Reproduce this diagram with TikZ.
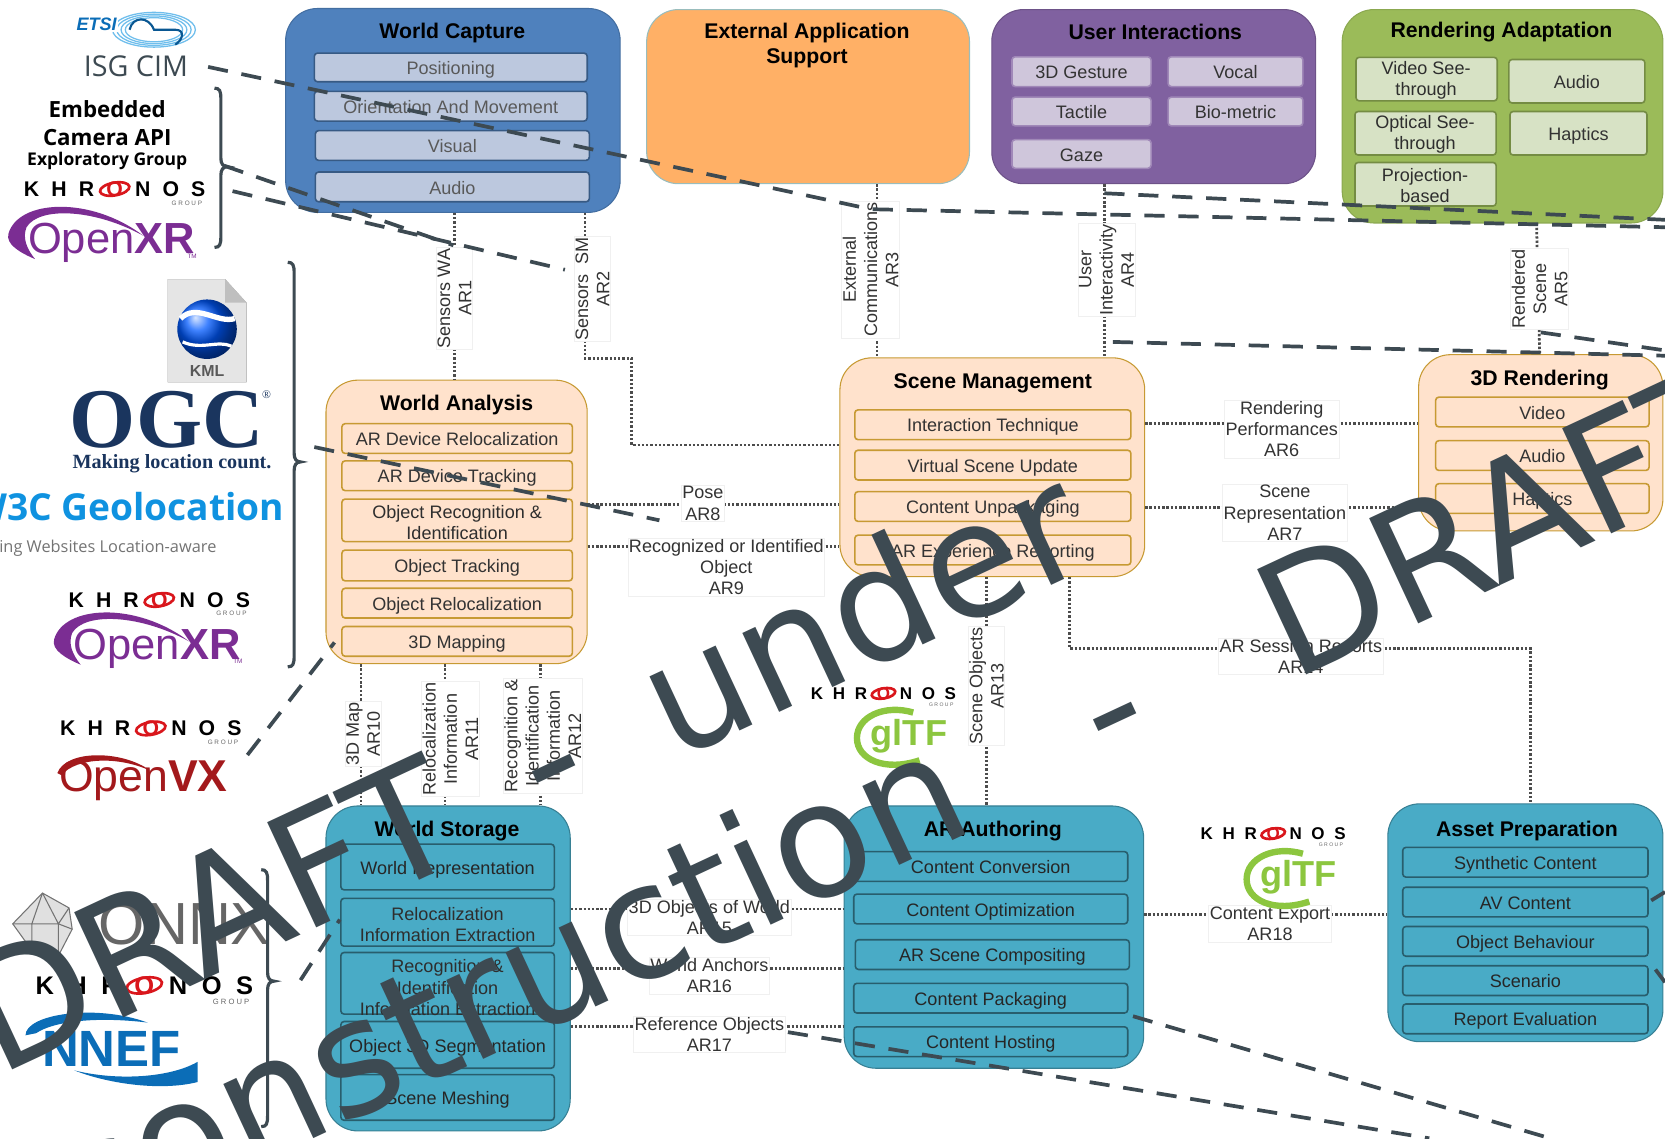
\documentclass[tikz,border=0pt]{standalone}
\usepackage{fontspec}
\setmainfont{Liberation Sans}
\newfontfamily\logofont{Open Sans}
\newfontfamily\draftfont{DejaVu Sans}
\newfontfamily\ogcfont{Liberation Serif}
\newfontfamily\khfont[LetterSpace=57]{Liberation Sans}
\definecolor{wmark}{HTML}{3D4A52}
\definecolor{blueA}{HTML}{4F81BD}
\definecolor{blueB}{HTML}{BCC8DE}
\definecolor{orangeA}{HTML}{FFB066}
\definecolor{purpleA}{HTML}{8061A0}
\definecolor{purpleB}{HTML}{CFC6DB}
\definecolor{greenA}{HTML}{9BBB59}
\definecolor{greenB}{HTML}{D7E2C5}
\definecolor{peach}{HTML}{FFE2CC}
\definecolor{gold}{HTML}{C79A33}
\definecolor{tealA}{HTML}{49ABC6}
\definecolor{khred}{HTML}{D9161C}
\definecolor{xrpurple}{HTML}{7B2D93}
\definecolor{ogcblue}{HTML}{1A355E}
\definecolor{geoblue}{HTML}{0F92E0}
\definecolor{vxred}{HTML}{A3191C}
\definecolor{gltfgreen}{HTML}{8CC63F}
\definecolor{nnefblue}{HTML}{0B6DB7}
\newcommand{\titlefont}{\fontsize{20}{23}\selectfont\bfseries}
\newcommand{\itemfont}{\fontsize{17}{20}\selectfont}
\newcommand{\linkfont}{\fontsize{17}{20}\selectfont}
\newcommand{\itemstrut}{\leavevmode\vrule height 17pt depth 3.6pt width 0pt}
\newcommand{\curlybrace}[4]{\draw[curly] (#1-6,#2) .. controls (#1-1,#2) and (#1,#2+3) .. (#1,#2+10) -- (#1,#3-8) .. controls (#1,#3-3) and (#1+2,#3) .. (#1+6,#3) .. controls (#1+2,#3) and (#1,#3+3) .. (#1,#3+8) -- (#1,#4-10) .. controls (#1,#4-3) and (#1-1,#4) .. (#1-6,#4);}
\tikzset{
	block/.style={draw, rounded corners=30pt, line width=1pt, inner sep=0pt},
	title/.style={font=\titlefont, align=center, inner sep=0pt},
	item/.style={draw, rounded corners=3pt, line width=1.5pt, inner sep=0pt, align=center, font=\itemfont, execute at begin node=\itemstrut, execute at end node=\itemstrut},
	itemblue/.style={item, fill=blueB, draw=blueA!70!black, text=black!65},
	itempurple/.style={item, fill=purpleB, draw=purpleA!75!white, text=black!80},
	itemgreen/.style={item, fill=greenB, draw=greenA!75!black, text=black!80},
	itempeach/.style={item, fill=peach, draw=gold, text=black!80},
	itemteal/.style={item, fill=tealA, draw=tealA!55!black, text=black!85},
	itemtext/.style={inner sep=0pt, align=center, font=\itemfont, text=black!82},
	link/.style={draw=black!70, line width=2.6pt, dash pattern=on 2.2pt off 1.8pt},
	lab/.style={fill=white, draw=black!6, line width=.6pt, inner sep=1pt, align=center, font=\linkfont, text=black!80},
	annot/.style={color=wmark, line width=3.5pt, dash pattern=on 19pt off 13pt},
	curly/.style={color=wmark, line width=3pt},
	watermark/.style={font=\draftfont\fontsize{150}{173}\selectfont, text=wmark, anchor=base west, rotate=25, inner sep=0pt},
	khronos/.pic={
		\node[font=\khfont\bfseries\fontsize{20}{20}\selectfont] (word) at (0,0) {KHR\kern11.5pt\textcolor{khred}{O}\kern11.5pt NOS};
		\node[font=\fontsize{6}{6}\selectfont, text=black!60] (group) at (68,13) {G R O U P};
		\draw[khred, line width=2.5pt, rotate=10] (0,0) ellipse (14 and 6);
	},
	openxr/.pic={
		\fill[xrpurple] (-87,-4) .. controls (-78,-36) and (-10,-40) .. (40,-2) .. controls (-5,-27) and (-58,-30) .. (-70,-10) .. controls (-74,0) and (-70,10) .. (-62,20) .. controls (-76,14) and (-90,6) .. (-87,-4);
		\node[font=\fontsize{41}{41}\selectfont, text=xrpurple, inner sep=0pt] (xrword) at (10,5) {Open\textbf{XR}};
		\node[font=\fontsize{6}{6}\selectfont, text=xrpurple, inner sep=0pt] (xrtm) at (86,17) {TM};
	},
	gltf/.pic={
		\draw[gltfgreen, line width=6pt] (12,-24) .. controls (-15,-32) and (-41,-20) .. (-41,0) .. controls (-41,20) and (-15,32) .. (18,21);
		\node[font=\fontsize{34}{34}\selectfont\bfseries, text=gltfgreen, inner sep=0pt] (gltfword) at (8,-2) {glTF};
	}
}
\begin{document}
\begin{tikzpicture}[x=1pt, y=-1pt]
	\clip (0,0) rectangle (1568,1072);
	% top row
	\node[block, fill=blueA, draw=blueA!85!black, minimum width=315pt, minimum height=192pt] (wcap) at (426.5,104) {};
	\node[title] (wcaptitle) at (426,31) {World Capture};
	\node[itemblue, minimum width=257pt, minimum height=27pt] (pos) at (424.5,63.5) {Positioning};
	\node[itemblue, minimum width=257pt, minimum height=28pt] (orient) at (424.5,100) {Orientation And Movement};
	\node[itemblue, minimum width=258pt, minimum height=28pt] (visual) at (426,137) {Visual};
	\node[itemblue, minimum width=258pt, minimum height=28pt] (audioA) at (426,176) {Audio};

	\node[block, fill=orangeA, draw=black!30!teal!40, minimum width=304pt, minimum height=164pt] (ext) at (761,91) {};
	\node[title] (exttitle) at (760,43) {External Application\\Support};

	\node[block, fill=purpleA, draw=purpleA!85!black, minimum width=305pt, minimum height=164pt] (ui) at (1086.5,91) {};
	\node[title] (uititle) at (1088,30) {User Interactions};
	\node[itempurple, minimum width=131pt, minimum height=28pt] (gesture) at (1018.5,67.5) {3D Gesture};
	\node[itempurple, minimum width=127pt, minimum height=28pt] (vocal) at (1163.5,67.5) {Vocal};
	\node[itempurple, minimum width=131pt, minimum height=27pt] (tactile) at (1018.5,105) {Tactile};
	\node[itempurple, minimum width=127pt, minimum height=27pt] (bio) at (1163.5,105) {Bio-metric};
	\node[itempurple, minimum width=131pt, minimum height=27pt] (gaze) at (1018.5,145) {Gaze};

	\node[block, fill=greenA, draw=greenA!90!black, minimum width=302pt, minimum height=201pt] (rad) at (1415,109.5) {};
	\node[title] (radtitle) at (1414,30.5) {Rendering Adaptation};
	\node[itemgreen, minimum width=133pt, minimum height=41pt] (videosee) at (1343.5,74.5) {};
	\node[itemtext] (videoseetext) at (1343,75.5) {Video See-\\through};
	\node[itemgreen, minimum width=128pt, minimum height=41pt] (audioB) at (1485,76.5) {Audio};
	\node[itemgreen, minimum width=133pt, minimum height=41pt] (opticalsee) at (1342.5,125.5) {};
	\node[itemtext] (opticalseetext) at (1342,126.5) {Optical See-\\through};
	\node[itemgreen, minimum width=129pt, minimum height=41pt] (hapticsA) at (1486.5,125.5) {Haptics};
	\node[itemgreen, minimum width=133pt, minimum height=41pt] (projection) at (1342.5,173.5) {};
	\node[itemtext] (projectiontext) at (1342,174.5) {Projection-\\based};

	% middle row
	\node[block, fill=peach, draw=gold, minimum width=246pt, minimum height=267pt] (wana) at (430,491.5) {};
	\node[title] (wanatitle) at (430,381) {World Analysis};
	\node[itempeach, minimum width=217pt, minimum height=28pt] (reloc) at (430.5,413) {AR Device Relocalization};
	\node[itempeach, minimum width=217pt, minimum height=28pt] (track) at (430.5,448) {AR Device Tracking};
	\node[itempeach, minimum width=217pt, minimum height=40pt] (objrec) at (430.5,490) {};
	\node[itemtext] (objrectext) at (430.5,492) {Object Recognition \&\\Identification};
	\node[itempeach, minimum width=217pt, minimum height=29pt] (objtrack) at (430.5,532.5) {Object Tracking};
	\node[itempeach, minimum width=217pt, minimum height=28pt] (objreloc) at (430.5,568) {Object Relocalization};
	\node[itempeach, minimum width=217pt, minimum height=28pt] (mapping) at (430.5,604) {3D Mapping};

	\node[block, fill=peach, draw=gold, minimum width=287pt, minimum height=206pt] (scene) at (934.5,440) {};
	\node[title] (scenetitle) at (935,361) {Scene Management};
	\node[itempeach, minimum width=260pt, minimum height=28pt] (interact) at (935,400) {Interaction Technique};
	\node[itempeach, minimum width=260pt, minimum height=28pt] (update) at (935,438) {Virtual Scene Update};
	\node[itempeach, minimum width=260pt, minimum height=28pt] (unpack) at (935,477) {Content Unpackaging};
	\node[itempeach, minimum width=260pt, minimum height=28pt] (report) at (935,518) {AR Experience Reporting};

	\node[block, fill=peach, draw=gold, minimum width=230pt, minimum height=166pt] (rthree) at (1451,417) {};
	\node[title] (rthreetitle) at (1450,358) {3D Rendering};
	\node[itempeach, minimum width=201pt, minimum height=28pt] (video) at (1452.5,388) {Video};
	\node[itempeach, minimum width=201pt, minimum height=28pt] (audioC) at (1452.5,429) {Audio};
	\node[itempeach, minimum width=201pt, minimum height=28pt] (hapticsB) at (1452.5,469.5) {Haptics};

	% bottom row
	\node[block, fill=tealA, draw=tealA!75!black, minimum width=230pt, minimum height=306pt] (store) at (422,912) {};
	\node[title] (storetitle) at (421,783) {World Storage};
	\node[itemteal, minimum width=201pt, minimum height=43pt] (worldrep) at (421.5,816.5) {World Representation};
	\node[itemteal, minimum width=201pt, minimum height=45pt] (relocx) at (421.5,868.5) {};
	\node[itemtext] (relocxtext) at (421.5,870.5) {Relocalization\\Information Extraction};
	\node[itemteal, minimum width=201pt, minimum height=58pt] (recogx) at (421.5,926) {};
	\node[itemtext] (recogxtext) at (421.5,930) {Recognition \&\\Identification\\Information Extraction};
	\node[itemteal, minimum width=201pt, minimum height=44pt] (objseg) at (421.5,984) {Object 3D Segmentation};
	\node[itemteal, minimum width=201pt, minimum height=43pt] (meshing) at (421.5,1033.5) {Scene Meshing};

	\node[block, fill=tealA, draw=tealA!75!black, minimum width=282pt, minimum height=247pt] (auth) at (936,882.5) {};
	\node[title] (authtitle) at (935,783) {AR Authoring};
	\node[itemteal, minimum width=258pt, minimum height=28pt] (convert) at (933,816) {Content Conversion};
	\node[itemteal, minimum width=258pt, minimum height=28pt] (optim) at (933,856) {Content Optimization};
	\node[itemteal, minimum width=258pt, minimum height=28pt] (composit) at (934.5,899) {AR Scene Compositing};
	\node[itemteal, minimum width=258pt, minimum height=28pt] (packag) at (933,940) {Content Packaging};
	\node[itemteal, minimum width=258pt, minimum height=28pt] (hosting) at (933,981) {Content Hosting};

	\node[block, fill=tealA, draw=tealA!75!black, minimum width=259pt, minimum height=224pt] (asset) at (1436.5,869) {};
	\node[title] (assettitle) at (1438,783) {Asset Preparation};
	\node[itemteal, minimum width=231pt, minimum height=28pt] (synth) at (1436.5,812) {Synthetic Content};
	\node[itemteal, minimum width=231pt, minimum height=28pt] (avcont) at (1436.5,849.5) {AV Content};
	\node[itemteal, minimum width=231pt, minimum height=28pt] (behav) at (1436.5,886.5) {Object Behaviour};
	\node[itemteal, minimum width=231pt, minimum height=28pt] (scenario) at (1436.5,923.5) {Scenario};
	\node[itemteal, minimum width=231pt, minimum height=28pt] (evalu) at (1436.5,959.5) {Report Evaluation};

	% reference points
	\draw[link] ([xshift=1.5pt]wcap.south) -- ([xshift=-2pt]wana.north);
	\draw[link] ([xshift=124.5pt]wcap.south) -- ++(0,137) -- ++(44,0) |- ([yshift=21pt]scene.west);
	\draw[link] ([xshift=65pt]ext.south) -- ([xshift=-108.5pt]scene.north);
	\draw[link] ([xshift=-46.5pt]ui.south) -- ([xshift=105.5pt]scene.north);
	\draw[link] ([xshift=32pt]rad.south) -- ([xshift=-1pt]rthree.north);
	\draw[link] ([yshift=41pt]scene.east) -- ([yshift=18pt]rthree.west);
	\draw[link] ([yshift=-38pt]scene.east) -- ([yshift=-61pt]rthree.west);
	\draw[link] ([yshift=16.5pt]wana.east) -- ([yshift=-35pt]scene.west);
	\draw[link] ([yshift=-23.5pt]wana.east) -- ([yshift=-75pt]scene.west);
	\draw[link] ([xshift=-90pt]wana.south) -- ([xshift=-82pt]store.north);
	\draw[link] ([xshift=-11pt]wana.south) -- ([xshift=-3pt]store.north);
	\draw[link] ([xshift=79pt]wana.south) -- ([xshift=87pt]store.north);
	\draw[link] ([xshift=-5.5pt]scene.south) -- ([xshift=-7pt]auth.north);
	\draw[link] ([xshift=72.5pt]scene.south) -- ++(0,67) -| ([xshift=4.5pt]asset.north);
	\draw[link] ([yshift=56pt]store.east) -- ([yshift=26.5pt]auth.west);
	\draw[link] (store.east) -- ([yshift=-29.5pt]auth.west);
	\draw[link] ([yshift=-55pt]store.east) -- ([yshift=-84.5pt]auth.west);
	\draw[link] ([yshift=21.5pt]auth.east) -- ([yshift=8pt]asset.west);

	\node[lab, rotate=90] (arone) at (428,281) {Sensors WA\\AR1};
	\node[lab, rotate=90] (artwo) at (558,272) {Sensors\ \ SM\\AR2};
	\node[lab, rotate=90] (arthree) at (820,254) {External\\Communications\\AR3};
	\node[lab, rotate=90] (arfour) at (1042,254) {User\\Interactivity\\AR4};
	\node[lab, rotate=90] (arfive) at (1450,272) {Rendered\\Scene\\AR5};
	\node[lab] (arsix) at (1207,404) {Rendering\\Performances\\AR6};
	\node[lab] (arseven) at (1210,483) {Scene\\Representation\\AR7};
	\node[lab] (areight) at (662,474) {Pose\\AR8};
	\node[lab] (arnine) at (684,534) {Recognized or Identified\\Object\\AR9};
	\node[lab, rotate=90] (arten) at (342,691) {3D Map\\AR10};
	\node[lab, rotate=90] (areleven) at (424,696) {Relocalization\\Information\\AR11};
	\node[lab, rotate=90] (artwelve) at (511,693) {Recognition \&\\Identification\\Information\\AR12};
	\node[lab, rotate=90] (arthirteen) at (929,646) {Scene Objects\\AR13};
	\node[lab] (arfourteen) at (1225,618) {AR Session Reports\\AR14};
	\node[lab] (arfifteen) at (668,864) {3D Objects of World\\AR15};
	\node[lab] (arsixteen) at (668,919) {World Anchors\\AR16};
	\node[lab] (arseventeen) at (668,974) {Reference Objects\\AR17};
	\node[lab] (areighteen) at (1196,870) {Content Export\\AR18};

	% logos
	\foreach \rx in {39,35,31,27}
		\draw[geoblue!60, line width=1.2pt] (145,28) ellipse ({\rx} and {\rx*.42});
	\draw[nnefblue!80!black, line width=2pt] (122,28) .. controls (125,15) and (140,15) .. (145,28) -- (165,28) .. controls (175,28) and (172,38) .. (165,42);
	\node[font=\bfseries\itshape\fontsize{17}{17}\selectfont, text=nnefblue, fill=white, inner sep=1pt] (etsi) at (91,23) {ETSI};
	\node[font=\logofont\fontsize{27}{27}\selectfont, text=wmark, inner sep=0pt] (cim) at (128,62) {ISG CIM};
	\node[font=\logofont\bfseries\fontsize{21}{27}\selectfont, inner sep=0pt, align=center] (embedded) at (101,116) {Embedded\\Camera API};
	\node[font=\logofont\bfseries\fontsize{16.5}{20}\selectfont, inner sep=0pt] (explor) at (101,152) {Exploratory Group};
	\pic (khA) at (108,178) {khronos};
	\pic (xrA) at (95,224) {openxr};
	\curlybrace{208}{83}{157}{233}

	\curlybrace{277}{247}{435}{628}
	\fill[black!10, draw=black!35] (158,263) -- (212,263) -- (232,285) -- (232,360) -- (158,360) -- cycle;
	\fill[black!25] (212,263) -- (232,285) -- (212,285) -- cycle;
	\shade[ball color=blue!65!cyan] (195,310) circle (28);
	\draw[white, line width=5pt] (170,300) .. controls (185,285) and (205,305) .. (221,300);
	\draw[white, line width=3pt] (172,322) .. controls (190,330) and (205,320) .. (218,326);
	\node[font=\bfseries\fontsize{15}{15}\selectfont, text=black!65, inner sep=0pt] (kml) at (195,349) {KML};
	\node[font=\ogcfont\bfseries\fontsize{80}{80}\selectfont, text=ogcblue, inner sep=0pt] (ogc) at (157,395) {OGC};
	\node[font=\ogcfont\fontsize{11}{11}\selectfont, text=ogcblue, inner sep=0pt] (ogcr) at (251,372) {®};
	\node[font=\ogcfont\bfseries\fontsize{19}{19}\selectfont, text=ogcblue, inner sep=0pt] (count) at (162,437) {Making location count.};
	\node[anchor=east, font=\logofont\bfseries\fontsize{35}{35}\selectfont, text=geoblue, inner sep=0pt] (geo) at (268,477) {W3C Geolocation};
	\node[anchor=east, font=\logofont\fontsize{15.4}{16}\selectfont, text=black!55, inner sep=0pt] (geosub) at (204,516) {ing Websites Location-aware};
	\pic (khB) at (150,565) {khronos};
	\pic (xrB) at (138,606) {openxr};
	\pic (khC) at (142,686) {khronos};
	\fill[vxred] (54,728) .. controls (62,706) and (115,706) .. (142,726) .. controls (112,712) and (72,713) .. (58,730) -- cycle;
	\node[font=\fontsize{42}{42}\selectfont, text=vxred, inner sep=0pt] (vxword) at (135,735) {Open\textbf{VX}};

	\pic[scale=.8, transform shape] (khD) at (832,653) {khronos};
	\pic (gltfA) at (848,695) {gltf};
	\pic[scale=.8, transform shape] (khE) at (1199,785) {khronos};
	\pic (gltfB) at (1215,828) {gltf};

	\filldraw[fill=black!12, draw=black!55, line width=1pt] (40,841) -- (65,855) -- (68,875) -- (55,900) -- (30,895) -- (12,870) -- cycle;
	\draw[black!55, line width=1pt] (40,841) -- (30,870) -- (12,870) (30,870) -- (30,895) (40,841) -- (55,870) -- (65,855) (55,870) -- (68,875) (55,870) -- (55,900) (30,870) -- (55,870);
	\node[font=\fontsize{56}{56}\selectfont, text=black!60, inner sep=0pt] (onnx) at (174,870) {ONNX};
	\pic[scale=1.2, transform shape] (khF) at (136,928) {khronos};
	\fill[nnefblue] (24,975) .. controls (24,955) and (90,945) .. (139,963) .. controls (90,957) and (50,962) .. (34,973) -- cycle;
	\fill[nnefblue] (70,1008) .. controls (110,1018) and (160,1015) .. (186,1000) -- (186,1019) .. controls (150,1028) and (100,1020) .. (70,1008) -- cycle;
	\node[font=\bfseries\fontsize{48}{48}\selectfont, text=nnefblue, inner sep=0pt] (nnef) at (105,988) {NNEF};
	\curlybrace{252}{819}{924}{1061}

	% dashed notes
	\coordinate (cimA) at (196,63);
	\coordinate (cimB) at (820,197);
	\coordinate (cimC) at (1568,214);
	\coordinate (ecamA) at (211,156);
	\coordinate (ecamB) at (427,231);
	\coordinate (ecamC) at (219,180);
	\coordinate (ecamD) at (532,254);
	\coordinate (uiA) at (1040,182);
	\coordinate (uiB) at (1568,207);
	\coordinate (scA) at (1048,322);
	\coordinate (scB) at (1568,335);
	\coordinate (reA) at (1451,313);
	\coordinate (reB) at (1568,330);
	\coordinate (wanaA) at (296,421);
	\coordinate (wanaB) at (621,490);
	\coordinate (vxA) at (233,711);
	\coordinate (vxB) at (315,605);
	\coordinate (onA) at (283,923);
	\coordinate (onB) at (320,866);
	\coordinate (refA) at (742,972);
	\coordinate (refB) at (1346,1072);
	\coordinate (packA) at (1067,957);
	\coordinate (packB) at (1460,1072);
	\coordinate (avA) at (1555,848);
	\coordinate (avB) at (1568,840);
	\coordinate (scenA) at (1559,913);
	\coordinate (scenB) at (1568,925);
	\draw[annot] (cimA) -- (cimB) -- (cimC);
	\draw[annot] (ecamA) -- (ecamB);
	\draw[annot] (ecamC) -- (ecamD);
	\draw[annot] (uiA) -- (uiB);
	\draw[annot] (scA) -- (scB);
	\draw[annot] (reA) -- (reB);
	\draw[annot] (wanaA) -- (wanaB);
	\draw[annot] (vxA) -- (vxB);
	\draw[annot] (onA) -- (onB);
	\draw[annot] (refA) -- (refB);
	\draw[annot] (packA) -- (packB);
	\draw[annot] (avA) -- (avB);
	\draw[annot] (scenA) -- (scenB);

	% draft stamp
	\node[watermark] (stampA) at (-2,1014) {DRAFT\ \hspace{31pt}-\ \hspace{31pt}under};
	\node[watermark] (stampB) at (75,1175) {construction\ \hspace{87pt}-\ \hspace{91pt}DRAFT};
\end{tikzpicture}
\end{document}
